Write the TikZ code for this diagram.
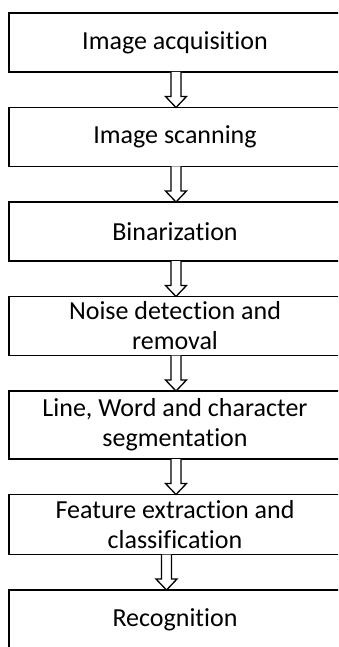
\documentclass[tikz,border=0pt]{standalone}
\usepackage{fontspec}
\setmainfont[Ligatures=NoCommon]{Carlito}
\usetikzlibrary{positioning,calc}

\tikzset{
  stage/.style={draw, line width=1.8pt, minimum width=332pt, minimum height=59pt,
    inner sep=0pt, outer sep=0pt, align=center, font=\fontsize{26}{30}\selectfont},
  flowline/.style={line width=1.3pt, line join=miter, fill=white}
}
\newcommand{\flowarrow}[3][1]{%
  \draw[flowline] ($(#2.south)+(#1-5,0)$) -- ($(#3.north)+(#1-5,11)$) -- ($(#3.north)+(#1-10.5,11)$)
    -- ($(#3.north)+(#1,0)$) -- ($(#3.north)+(#1+10.5,11)$) -- ($(#3.north)+(#1+5,11)$) -- ($(#2.south)+(#1+5,0)$);}

\begin{document}
\begin{tikzpicture}[x=1pt, y=1pt, node distance=35.5pt]
\useasboundingbox (0,0) rectangle (338,-647);
\clip (0,0) rectangle (338,-647);
\node[stage] (acquire) at (175,-42.5) {Image acquisition};
\node[stage, below=of acquire] (scan) {Image scanning};
\node[stage, below=of scan] (binar) {Binarization};
\node[stage, below=of binar] (noise) {Noise detection and\\removal};
\node[stage, below=of noise, minimum height=68pt] (segment) {Line, Word and character\\segmentation};
\node[stage, below=of segment, minimum height=60pt] (feature) {Feature extraction and\\classification};
\node[stage, below=of feature] (recog) {Recognition};
\flowarrow{acquire}{scan}
\flowarrow{scan}{binar}
\flowarrow{binar}{noise}
\flowarrow{noise}{segment}
\flowarrow{segment}{feature}
\flowarrow[-8.5]{feature}{recog}
\end{tikzpicture}
\end{document}
